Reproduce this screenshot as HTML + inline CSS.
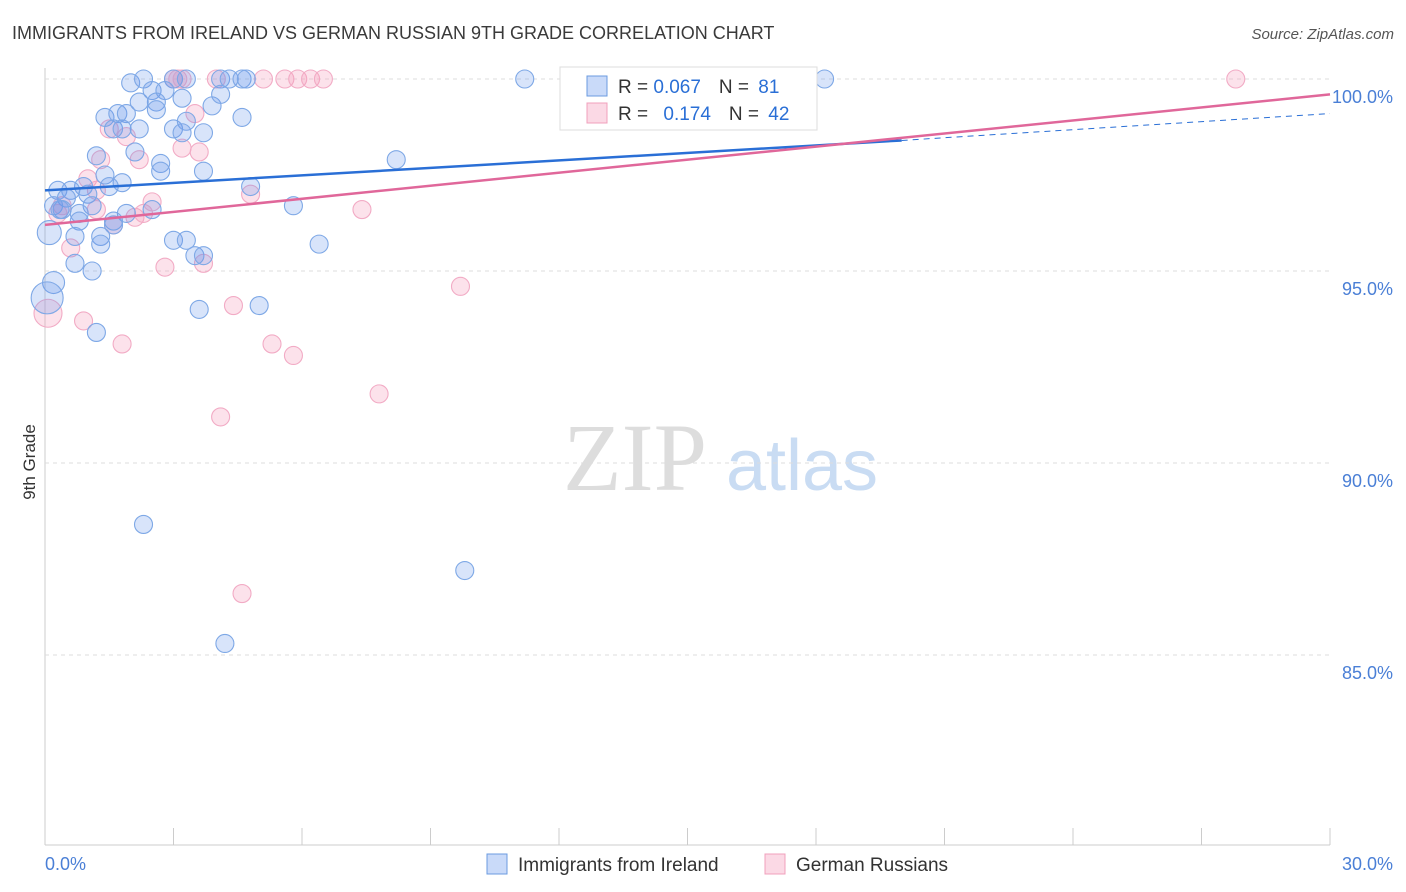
<!DOCTYPE html>
<html><head><meta charset="utf-8"><style>
body{margin:0;background:#fff;font-family:"Liberation Sans",sans-serif}
svg{display:block}
</style></head><body>
<svg id="chart" width="1406" height="892">
<text x="12" y="39" font-size="18" fill="#3a3a3a">IMMIGRANTS FROM IRELAND VS GERMAN RUSSIAN 9TH GRADE CORRELATION CHART</text>
<text x="1394" y="39" font-size="15" fill="#555" text-anchor="end" font-style="italic">Source: ZipAtlas.com</text>
<text x="35" y="462" font-size="17" fill="#333" text-anchor="middle" transform="rotate(-90 35 462)">9th Grade</text>
<g><text x="635" y="490" font-size="96" fill="#ddd" text-anchor="middle" font-family="Liberation Serif,serif">ZIP</text><text x="802" y="490" font-size="72" fill="#c9dcf3" text-anchor="middle">atlas</text></g>
<g id="grid"></g><g id="pts"></g><g id="lines"></g>
<g>
<rect x="560" y="67" width="257" height="63" fill="#fff" stroke="#ddd"/>
<rect x="587" y="76" width="20" height="20" fill="rgba(100,149,237,0.35)" stroke="#6b9be0"/>
<rect x="587" y="103" width="20" height="20" fill="rgba(244,160,190,0.4)" stroke="#f0a0bc"/>
<text x="618" y="93" font-size="19" fill="#333">R = <tspan fill="#2a6fd6">0.067</tspan><tspan dx="18">N = </tspan><tspan fill="#2a6fd6" dx="4">81</tspan></text>
<text x="618" y="120" font-size="19" fill="#333">R = <tspan fill="#2a6fd6" dx="10">0.174</tspan><tspan dx="18">N = </tspan><tspan fill="#2a6fd6" dx="4">42</tspan></text>
</g>
<g>
<rect x="487" y="854" width="20" height="20" fill="rgba(100,149,237,0.35)" stroke="#6b9be0"/>
<text x="518" y="871" font-size="19" fill="#333">Immigrants from Ireland</text>
<rect x="765" y="854" width="20" height="20" fill="rgba(244,160,190,0.4)" stroke="#f0a0bc"/>
<text x="796" y="871" font-size="19" fill="#333">German Russians</text>
</g>
</svg>
<script>
const xTicks=[0,30];
const yTicks=[85,90,95,100];
const blueX=[2,2.3,3,3.3,4.1,4.3,4.6,4.7,11.2,18.2,2.5,2.8,3.2,2.6,2.2,3.9,4.1,2.6,1.4,1.7,1.9,4.6,1.6,2.2,3,3.3,3.2,3.7,1.8,2.1,1.2,2.7,2.7,3.7,8.2,1.4,1.8,0.9,1.5,4.8,0.3,0.6,1,0.5,0.2,0.4,1.1,2.5,1.9,0.8,1.6,0.8,5.8,0.1,1.3,0.7,1.3,3,3.3,6.4,3.5,3.7,0.7,1.1,0.2,0.05,3.6,5,1.2,2.3,9.8,4.2,1.6,0.35];
const blueY=[99.9,100,100,100,100,100,100,100,100,100,99.7,99.7,99.5,99.4,99.4,99.3,99.6,99.2,99,99.1,99.1,99,98.7,98.7,98.7,98.9,98.6,98.6,98.7,98.1,98,97.8,97.6,97.6,97.9,97.5,97.3,97.2,97.2,97.2,97.1,97.1,97,96.9,96.7,96.6,96.7,96.6,96.5,96.5,96.3,96.3,96.7,96,95.9,95.9,95.7,95.8,95.8,95.7,95.4,95.4,95.2,95,94.7,94.3,94,94.1,93.4,88.4,87.2,85.3,96.2,96.6];
const blueR=[9,9,9,9,9,9,9,9,9,9,9,9,9,9,9,9,9,9,9,9,9,9,9,9,9,9,9,9,9,9,9,9,9,9,9,9,9,9,9,9,9,9,9,9,9,9,9,9,9,9,9,9,9,12,9,9,9,9,9,9,9,9,9,9,11,16,9,9,9,9,9,9,9,9];
const pinkX=[3,3.1,3.2,4,5.1,5.6,5.9,6.2,6.5,12.5,27.8,3.5,1.5,1.9,1.3,2.2,3.2,3.6,1,1.2,0.4,1.2,0.3,1.6,2.1,2.3,2.5,4.8,7.4,0.6,3.7,2.8,9.7,4.4,0.07,0.9,1.8,5.3,5.8,7.8,4.1,4.6];
const pinkY=[100,100,100,100,100,100,100,100,100,100,100,99.1,98.7,98.5,97.9,97.9,98.2,98.1,97.4,97.1,96.7,96.6,96.5,96.2,96.4,96.5,96.8,97,96.6,95.6,95.2,95.1,94.6,94.1,93.9,93.7,93.1,93.1,92.8,91.8,91.2,86.6];
const pinkR=[9,9,9,9,9,9,9,9,9,9,9,9,9,9,9,9,9,9,9,9,9,9,9,9,9,9,9,9,9,9,9,9,9,9,14,9,9,9,9,9,9,9];
const blueTrend=[[0,97.1],[20,98.4]];
const blueDash=[[20,98.4],[30,99.1]];
const pinkTrend=[[0,96.2],[30,99.6]];
const NS="http://www.w3.org/2000/svg";
const X0=45,X1=1330;
const sx=v=>X0+(v/30)*(X1-X0);
const sy=v=>79+(100-v)*38.4;
function mk(t,a,p){const e=document.createElementNS(NS,t);for(const k in a)e.setAttribute(k,a[k]);p.appendChild(e);return e;}
const grid=document.getElementById('grid');
mk('line',{x1:X0,y1:68,x2:X0,y2:845,stroke:'#ccc'},grid);
mk('line',{x1:X0,y1:845,x2:X1,y2:845,stroke:'#ccc'},grid);
for(let i=0;i<=10;i++){const l=mk('line',{x1:sx(i*3),y1:828,x2:sx(i*3),y2:845,stroke:'#ccc'},grid);

}
yTicks.forEach(v=>{const l=mk('line',{x1:X0,y1:sy(v),x2:X1,y2:sy(v),stroke:'#ddd','stroke-dasharray':'4 4'},grid);


const t=mk('text',{x:1393,y:sy(v)+24,'font-size':18,fill:'#4a7fd6','text-anchor':'end'},grid);t.textContent=v.toFixed(1)+'%';

});
xTicks.forEach((v,i)=>{const t=mk('text',{x:i?1393:45,y:870,'font-size':18,fill:'#4a7fd6','text-anchor':i?'end':'start'},grid);t.textContent=v.toFixed(1)+'%';

});
const pts=document.getElementById('pts');
pinkX.forEach((x,i)=>{const c=mk('circle',{cx:sx(x),cy:sy(pinkY[i]),r:pinkR[i],fill:'rgba(244,160,190,0.3)',stroke:'#f2abc5','stroke-width':1.1},pts);

});
blueX.forEach((x,i)=>{const c=mk('circle',{cx:sx(x),cy:sy(blueY[i]),r:blueR[i],fill:'rgba(100,149,237,0.25)',stroke:'#7ea8e6','stroke-width':1.1},pts);

});
const lines=document.getElementById('lines');
function ln(d,st,w,dash,name){const l=mk('line',{x1:sx(d[0][0]),y1:sy(d[0][1]),x2:sx(d[1][0]),y2:sy(d[1][1]),stroke:st,'stroke-width':w},lines);if(dash)l.setAttribute('stroke-dasharray',dash);

}
ln(blueDash,'#2a6fd6',1,'6 5','trend-ireland-extension');
ln(blueTrend,'#2a6fd6',2.5,null,'trend-ireland');
ln(pinkTrend,'#e0679a',2.5,null,'trend-german-russian');
</script>
</body></html>
